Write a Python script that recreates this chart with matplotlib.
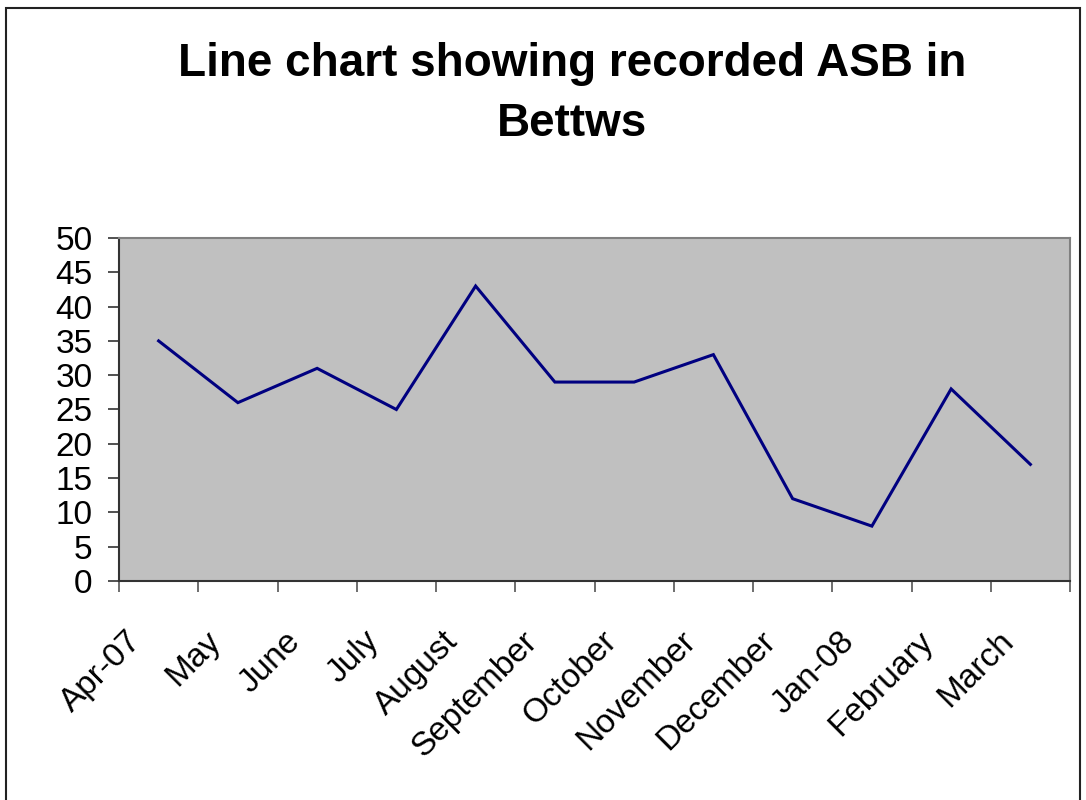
import matplotlib
matplotlib.use("Agg")
import matplotlib.pyplot as plt
import matplotlib.transforms as mtransforms
from matplotlib.patches import Rectangle

# recorded ASB per month, Apr 2007 - Mar 2008
months = ["Apr-07", "May", "June", "July", "August", "September",
          "October", "November", "December", "Jan-08", "February", "March"]
asb = [35, 26, 31, 25, 43, 29, 29, 33, 12, 8, 28, 17]
yticks = list(range(0, 55, 5))

plt.rcParams["font.family"] = ["Liberation Sans", "DejaVu Sans"]

fig = plt.figure(figsize=(10.86, 8), dpi=100)
ax = fig.add_axes([119 / 1086, 1 - 581 / 800, (1070 - 119) / 1086, (581 - 238) / 800])
ax.set_facecolor("#c0c0c0")

x = list(range(len(months)))
ax.plot(x, asb, color="#000080", linewidth=2.2, solid_joinstyle="miter")

ax.set_xlim(-0.5, len(months) - 0.5)
ax.set_ylim(0, 50)
ax.set_yticks(yticks)
ax.tick_params(axis="y", labelsize=24, length=8, width=1.2, color="#333333", pad=11)

# ticks at category boundaries, labels at category centres
ax.set_xticks([i - 0.5 for i in range(len(months) + 1)])
ax.set_xticklabels([])
ax.set_xticks(x, minor=True)
ax.set_xticklabels(months, minor=True, rotation=45, ha="right", va="top",
                   rotation_mode="anchor", fontsize=24)
ax.tick_params(axis="x", which="major", length=8, width=1.2, color="#555555")
ax.tick_params(axis="x", which="minor", length=0, pad=32)
shift = mtransforms.ScaledTranslation(-0.33, 0, fig.dpi_scale_trans)
for lab in ax.get_xticklabels(minor=True):
    lab.set_transform(lab.get_transform() + shift)

for side in ["left", "bottom"]:
    ax.spines[side].set_color("#333333")
    ax.spines[side].set_linewidth(1.5)
for side in ["top", "right"]:
    ax.spines[side].set_color("#808080")
    ax.spines[side].set_linewidth(1.5)

fig.text(572 / 1086, 1 - 94 / 800, "Line chart showing recorded ASB in\nBettws",
         ha="center", va="center", fontsize=33, fontweight="bold", linespacing=1.5)

# outer chart border
fig.patches.append(Rectangle((6 / 1086, -0.05), (1080 - 6) / 1086, 1.05 - 8 / 800,
                             transform=fig.transFigure, fill=False,
                             edgecolor="#222222", linewidth=1.5))

fig.savefig("out.png", dpi=100)
